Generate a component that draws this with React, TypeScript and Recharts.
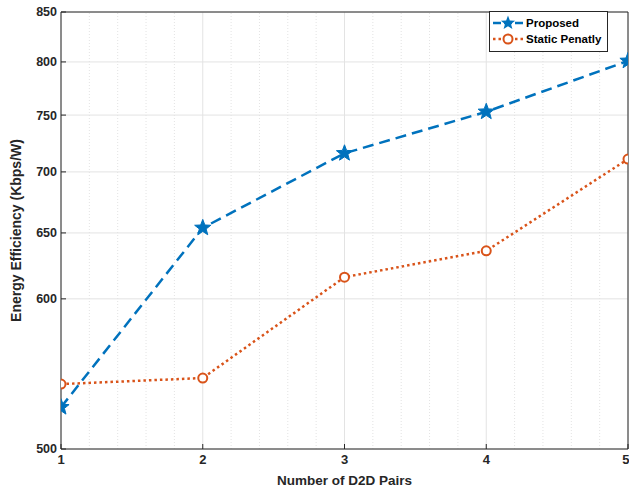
import React from "react";
import {
  LineChart,
  Line,
  XAxis,
  YAxis,
  CartesianGrid,
  ReferenceLine,
  Label,
} from "recharts";

const pairs = [1, 2, 3, 4, 5];
const proposed = [526, 654, 716, 753, 801];
const staticPenalty = [541, 545, 616, 636, 711];
const yTicks = [500, 600, 650, 700, 750, 800, 850];
const xMinorTicks = [1.2, 1.4, 1.6, 1.8, 2.2, 2.4, 2.6, 2.8, 3.2, 3.4, 3.6, 3.8, 4.2, 4.4, 4.6, 4.8];

const BLUE = "#0072BD";
const ORANGE = "#D95319";
const INK = "#262626";
const FONT = "'Liberation Sans', Arial, sans-serif";

const data = pairs.map((p, i) => ({
  pairs: p,
  proposed: proposed[i],
  staticPenalty: staticPenalty[i],
}));

function starPath(cx: number, cy: number, r: number) {
  const inner = r * 0.42;
  let d = "";
  for (let i = 0; i < 10; i++) {
    const rad = i % 2 === 0 ? r : inner;
    const a = -Math.PI / 2 + (i * Math.PI) / 5;
    d += (i === 0 ? "M" : "L") + (cx + rad * Math.cos(a)) + "," + (cy + rad * Math.sin(a));
  }
  return d + "Z";
}

const StarDot = (props: any) => {
  const { cx, cy, index } = props;
  if (cx == null || cy == null) return null;
  return <path key={"s" + index} d={starPath(cx, cy, 8.5)} fill={BLUE} stroke={BLUE} strokeWidth={1} />;
};

const CircleDot = (props: any) => {
  const { cx, cy, index } = props;
  if (cx == null || cy == null) return null;
  return <circle key={"c" + index} cx={cx} cy={cy} r={4.5} fill="white" stroke={ORANGE} strokeWidth={2} />;
};

const LegendBox = () => (
  <div
    style={{
      position: "absolute",
      left: 489,
      top: 11,
      border: "1px solid #262626",
      background: "white",
      width: 119,
      height: 41,
      fontFamily: FONT,
      fontWeight: "bold",
      fontSize: 11.5,
      color: "#000",
      boxSizing: "border-box",
      padding: "3px 0 0 2px",
      lineHeight: "16px",
    }}
  >
    <div style={{ display: "flex", alignItems: "center", height: 16 }}>
      <svg width={32} height={16}>
        <line x1={1} y1={8} x2={31} y2={8} stroke={BLUE} strokeWidth={2.5} strokeDasharray="8 3" />
        <path d={starPath(16, 8, 7.5)} fill={BLUE} />
      </svg>
      <span style={{ marginLeft: 2 }}>Proposed</span>
    </div>
    <div style={{ display: "flex", alignItems: "center", height: 16 }}>
      <svg width={32} height={16}>
        <line x1={1} y1={8} x2={31} y2={8} stroke={ORANGE} strokeWidth={2.5} strokeDasharray="2.5 3" />
        <circle cx={16} cy={8} r={4.5} fill="white" stroke={ORANGE} strokeWidth={2} />
      </svg>
      <span style={{ marginLeft: 2 }}>Static Penatly</span>
    </div>
  </div>
);

export default function App() {
  return (
    <div style={{ position: "absolute", left: 0, top: 0, width: 629, height: 490, background: "white" }}>
      <LineChart
        width={629}
        height={490}
        data={data}
        margin={{ top: 12, right: 1, left: 0, bottom: 0 }}
        style={{ fontFamily: FONT }}
      >
        <CartesianGrid stroke="#e3e3e3" strokeWidth={1} horizontal={true} vertical={true} />
        {xMinorTicks.map((t) => (
          <ReferenceLine key={t} x={t} stroke="#e3e3e3" strokeDasharray="1 2" />
        ))}
        <XAxis
          dataKey="pairs"
          type="number"
          domain={[1, 5]}
          ticks={pairs}
          height={41}
          stroke={INK}
          tickSize={-5}
          tickMargin={11}
          tick={{ fill: INK, fontSize: 13, fontWeight: "bold" }}
          allowDataOverflow
        >
          <Label
            value="Number of D2D Pairs"
            position="insideBottom"
            offset={5}
            style={{ fill: INK, fontSize: 13.5, fontWeight: "bold" }}
          />
        </XAxis>
        <YAxis
          scale="log"
          domain={[500, 850]}
          ticks={yTicks}
          width={61}
          stroke={INK}
          tickSize={-5}
          tickMargin={9}
          interval={0}
          allowDataOverflow
          tick={{ fill: INK, fontSize: 12.5, fontWeight: "bold" }}
        >
          <Label
            value="Energy Efficiency (Kbps/W)"
            angle={-90}
            position="insideLeft"
            offset={16}
            style={{ textAnchor: "middle", fill: INK, fontSize: 14, fontWeight: "bold" }}
          />
        </YAxis>
        <ReferenceLine y={850} stroke={INK} />
        <ReferenceLine x={5} stroke={INK} />
        <Line
          dataKey="staticPenalty"
          stroke={ORANGE}
          strokeWidth={2.5}
          strokeDasharray="2.5 3"
          dot={CircleDot}
          isAnimationActive={false}
        />
        <Line
          dataKey="proposed"
          stroke={BLUE}
          strokeWidth={2.5}
          strokeDasharray="11 6"
          dot={StarDot}
          isAnimationActive={false}
        />
      </LineChart>
      <LegendBox />
    </div>
  );
}
